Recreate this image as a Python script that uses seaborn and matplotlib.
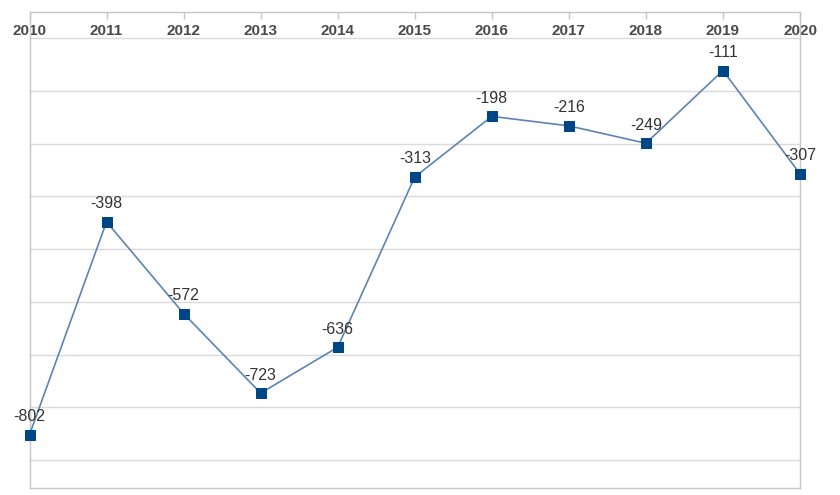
import numpy as np
import pandas as pd
import seaborn as sns
import matplotlib.pyplot as plt

# values
years = [2010, 2011, 2012, 2013, 2014, 2015, 2016, 2017, 2018, 2019, 2020]
values = [-802, -398, -572, -723, -636, -313, -198, -216, -249, -111, -307]
grid_levels = [-50, -150, -250, -350, -450, -550, -650, -750, -850]

line_color = '#5b84b5'
marker_color = '#004586'
frame_color = '#c6c6c6'
grid_color = '#dadada'

df = pd.DataFrame({'year': years, 'value': values})

sns.set_theme(style='white')
plt.rcParams['font.family'] = ['Liberation Sans', 'DejaVu Sans']

fig = plt.figure(figsize=(8.4, 4.95), dpi=100)
ax = fig.add_axes([29.5 / 840, 1 - 488 / 495, (800 - 29.5) / 840, (488 - 12) / 495])

sns.lineplot(data=df, x='year', y='value', ax=ax,
             color=line_color, lw=1.2,
             marker='s', markersize=6.8,
             markerfacecolor=marker_color, markeredgecolor=marker_color,
             zorder=3, clip_on=False)

for x, y in zip(years, values):
    ax.annotate(f'{y}', xy=(x, y), xytext=(0, 13), textcoords='offset points',
                ha='center', va='center', fontsize=11.5, color='#333333', zorder=4)

ax.set_xlim(2010, 2020)
ax.set_ylim(-903, 0)

# year labels sit on the top axis, printed just inside the frame
ax.xaxis.tick_top()
ax.set_xticks(years)
ax.set_xticklabels([str(y) for y in years])
ax.tick_params(axis='x', direction='in', length=5, width=1, color=frame_color,
               pad=-18.5, labelsize=11, labelcolor='#4a4a4a')
for lbl in ax.get_xticklabels():
    lbl.set_fontweight('bold')

ax.set_yticks(grid_levels)
ax.set_yticklabels([])
ax.tick_params(axis='y', length=0)
ax.grid(axis='y', color=grid_color, lw=1)
ax.grid(axis='x', visible=False)

for side in ['top', 'bottom', 'left', 'right']:
    ax.spines[side].set_visible(True)
    ax.spines[side].set_color(frame_color)
    ax.spines[side].set_linewidth(1)

ax.set_xlabel('')
ax.set_ylabel('')

fig.savefig('out.png', dpi=100)
